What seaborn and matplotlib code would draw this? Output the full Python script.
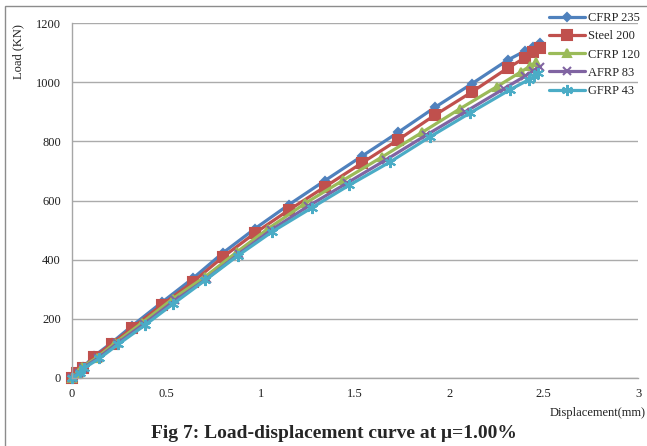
import matplotlib
matplotlib.use('Agg')
import matplotlib.pyplot as plt
import seaborn as sns
from matplotlib.patches import Rectangle

# Data
disp_cfrp235 = [0, 0.026, 0.058, 0.117, 0.21, 0.318, 0.477, 0.641, 0.80, 0.97, 1.15, 1.34,
                1.537, 1.728, 1.924, 2.12, 2.31, 2.40, 2.443, 2.48]
load_cfrp235 = [0, 18, 36, 74, 119, 176, 256, 337, 423, 505, 586, 667,
                750, 830, 915, 995, 1075, 1105, 1120, 1132]

disp_steel200 = [0, 0.026, 0.058, 0.117, 0.21, 0.318, 0.477, 0.641, 0.80, 0.97, 1.15, 1.34,
                 1.537, 1.728, 1.924, 2.12, 2.31, 2.40, 2.443, 2.48]
load_steel200 = [0, 17, 34, 71, 115, 169, 247, 325, 409, 490, 568, 646,
                 727, 805, 889, 967, 1048, 1082, 1102, 1115]

disp_cfrp120 = [0, 0.03, 0.053, 0.13, 0.228, 0.37, 0.535, 0.705, 0.874, 1.04, 1.235, 1.436,
                1.643, 1.855, 2.056, 2.25, 2.38, 2.43, 2.46]
load_cfrp120 = [0, 18, 37, 68, 118, 186, 268, 342, 426, 505, 590, 668,
                747, 830, 910, 984, 1035, 1055, 1068]

disp_afrp83 = [0, 0.035, 0.06, 0.14, 0.24, 0.38, 0.545, 0.715, 0.885, 1.055, 1.25, 1.455,
               1.665, 1.875, 2.085, 2.29, 2.40, 2.445, 2.48]
load_afrp83 = [0, 17, 35, 68, 117, 182, 262, 336, 420, 500, 580, 658,
               738, 820, 900, 978, 1020, 1038, 1050]

disp_gfrp43 = [0, 0.04, 0.065, 0.145, 0.245, 0.385, 0.535, 0.705, 0.88, 1.06, 1.27, 1.47,
               1.685, 1.897, 2.11, 2.32, 2.42, 2.45, 2.47]
load_gfrp43 = [0, 17, 34, 66, 114, 178, 250, 330, 414, 494, 575, 652,
               730, 815, 896, 974, 1008, 1020, 1032]

x_ticks = [0, 0.5, 1, 1.5, 2, 2.5, 3]
x_tick_labels = ['0', '0.5', '1', '1.5', '2', '2.5', '3']
y_ticks = [0, 200, 400, 600, 800, 1000, 1200]

series = [
    ('CFRP 235', disp_cfrp235, load_cfrp235, '#4F81BD', 'D', 4.5),
    ('Steel 200', disp_steel200, load_steel200, '#C0504D', 's', 6.5),
    ('CFRP 120', disp_cfrp120, load_cfrp120, '#9BBB59', '^', 6),
    ('AFRP 83', disp_afrp83, load_afrp83, '#8064A2', 'x', 6),
    ('GFRP 43', disp_gfrp43, load_gfrp43, '#4BACC6', (6, 2, 0), 8),
]

sns.set_style('white')
plt.rcParams['font.family'] = ['Liberation Serif', 'DejaVu Serif']

fig = plt.figure(figsize=(6.47, 4.46), dpi=100)
ax = fig.add_axes([72 / 647, 1 - 378 / 446, 566 / 647, 355 / 446])

for name, xs, ys, col, mk, ms in series:
    sns.lineplot(x=xs, y=ys, ax=ax, color=col, marker=mk, markersize=ms,
                 markeredgecolor=col, markeredgewidth=1.5, linewidth=2.3,
                 label=name, sort=False, estimator=None, clip_on=False)

ax.set_xlim(0, 3)
ax.set_ylim(0, 1200)
ax.set_xticks(x_ticks)
ax.set_xticklabels(x_tick_labels)
ax.set_yticks(y_ticks)
ax.set_xlabel('')
ax.set_ylabel('')
ax.yaxis.grid(True, color='#ababab', linewidth=1)
ax.xaxis.grid(False)
for s in ['top', 'right']:
    ax.spines[s].set_visible(False)
for s in ['left', 'bottom']:
    ax.spines[s].set_color('#a6a6a6')
    ax.spines[s].set_linewidth(1)
ax.tick_params(axis='both', direction='out', length=4, width=1, color='#a6a6a6',
               labelsize=9, labelcolor='#202020', pad=4)
ax.tick_params(axis='x', pad=3)

ax.legend_.remove()
handles, labels = ax.get_legend_handles_labels()
fig.legend(handles, labels, loc='upper left', bbox_to_anchor=(549 / 647, 1 - 12 / 446),
           frameon=False, fontsize=9, handlelength=2.9, handletextpad=0.25,
           labelspacing=0.5, borderaxespad=0, borderpad=0.0)

fig.text(18 / 647, 1 - 52 / 446, 'Load (KN)', rotation=90, ha='center', va='center',
         fontsize=9, color='#202020')
fig.text(646 / 647, 1 - 413 / 446, 'Displacement(mm)', ha='right', va='center',
         fontsize=9, color='#202020')
fig.text(334 / 647, 1 - 434 / 446, 'Fig 7: Load-displacement curve at \u03bc=1.00%',
         ha='center', va='center', fontsize=14, fontweight='bold')

fig.patches.append(Rectangle((5 / 647, -0.1), 1.2, 1.1 - 6 / 446, transform=fig.transFigure,
                             fill=False, edgecolor='#8c8c8c', linewidth=1))

fig.savefig('out.png', dpi=100)
